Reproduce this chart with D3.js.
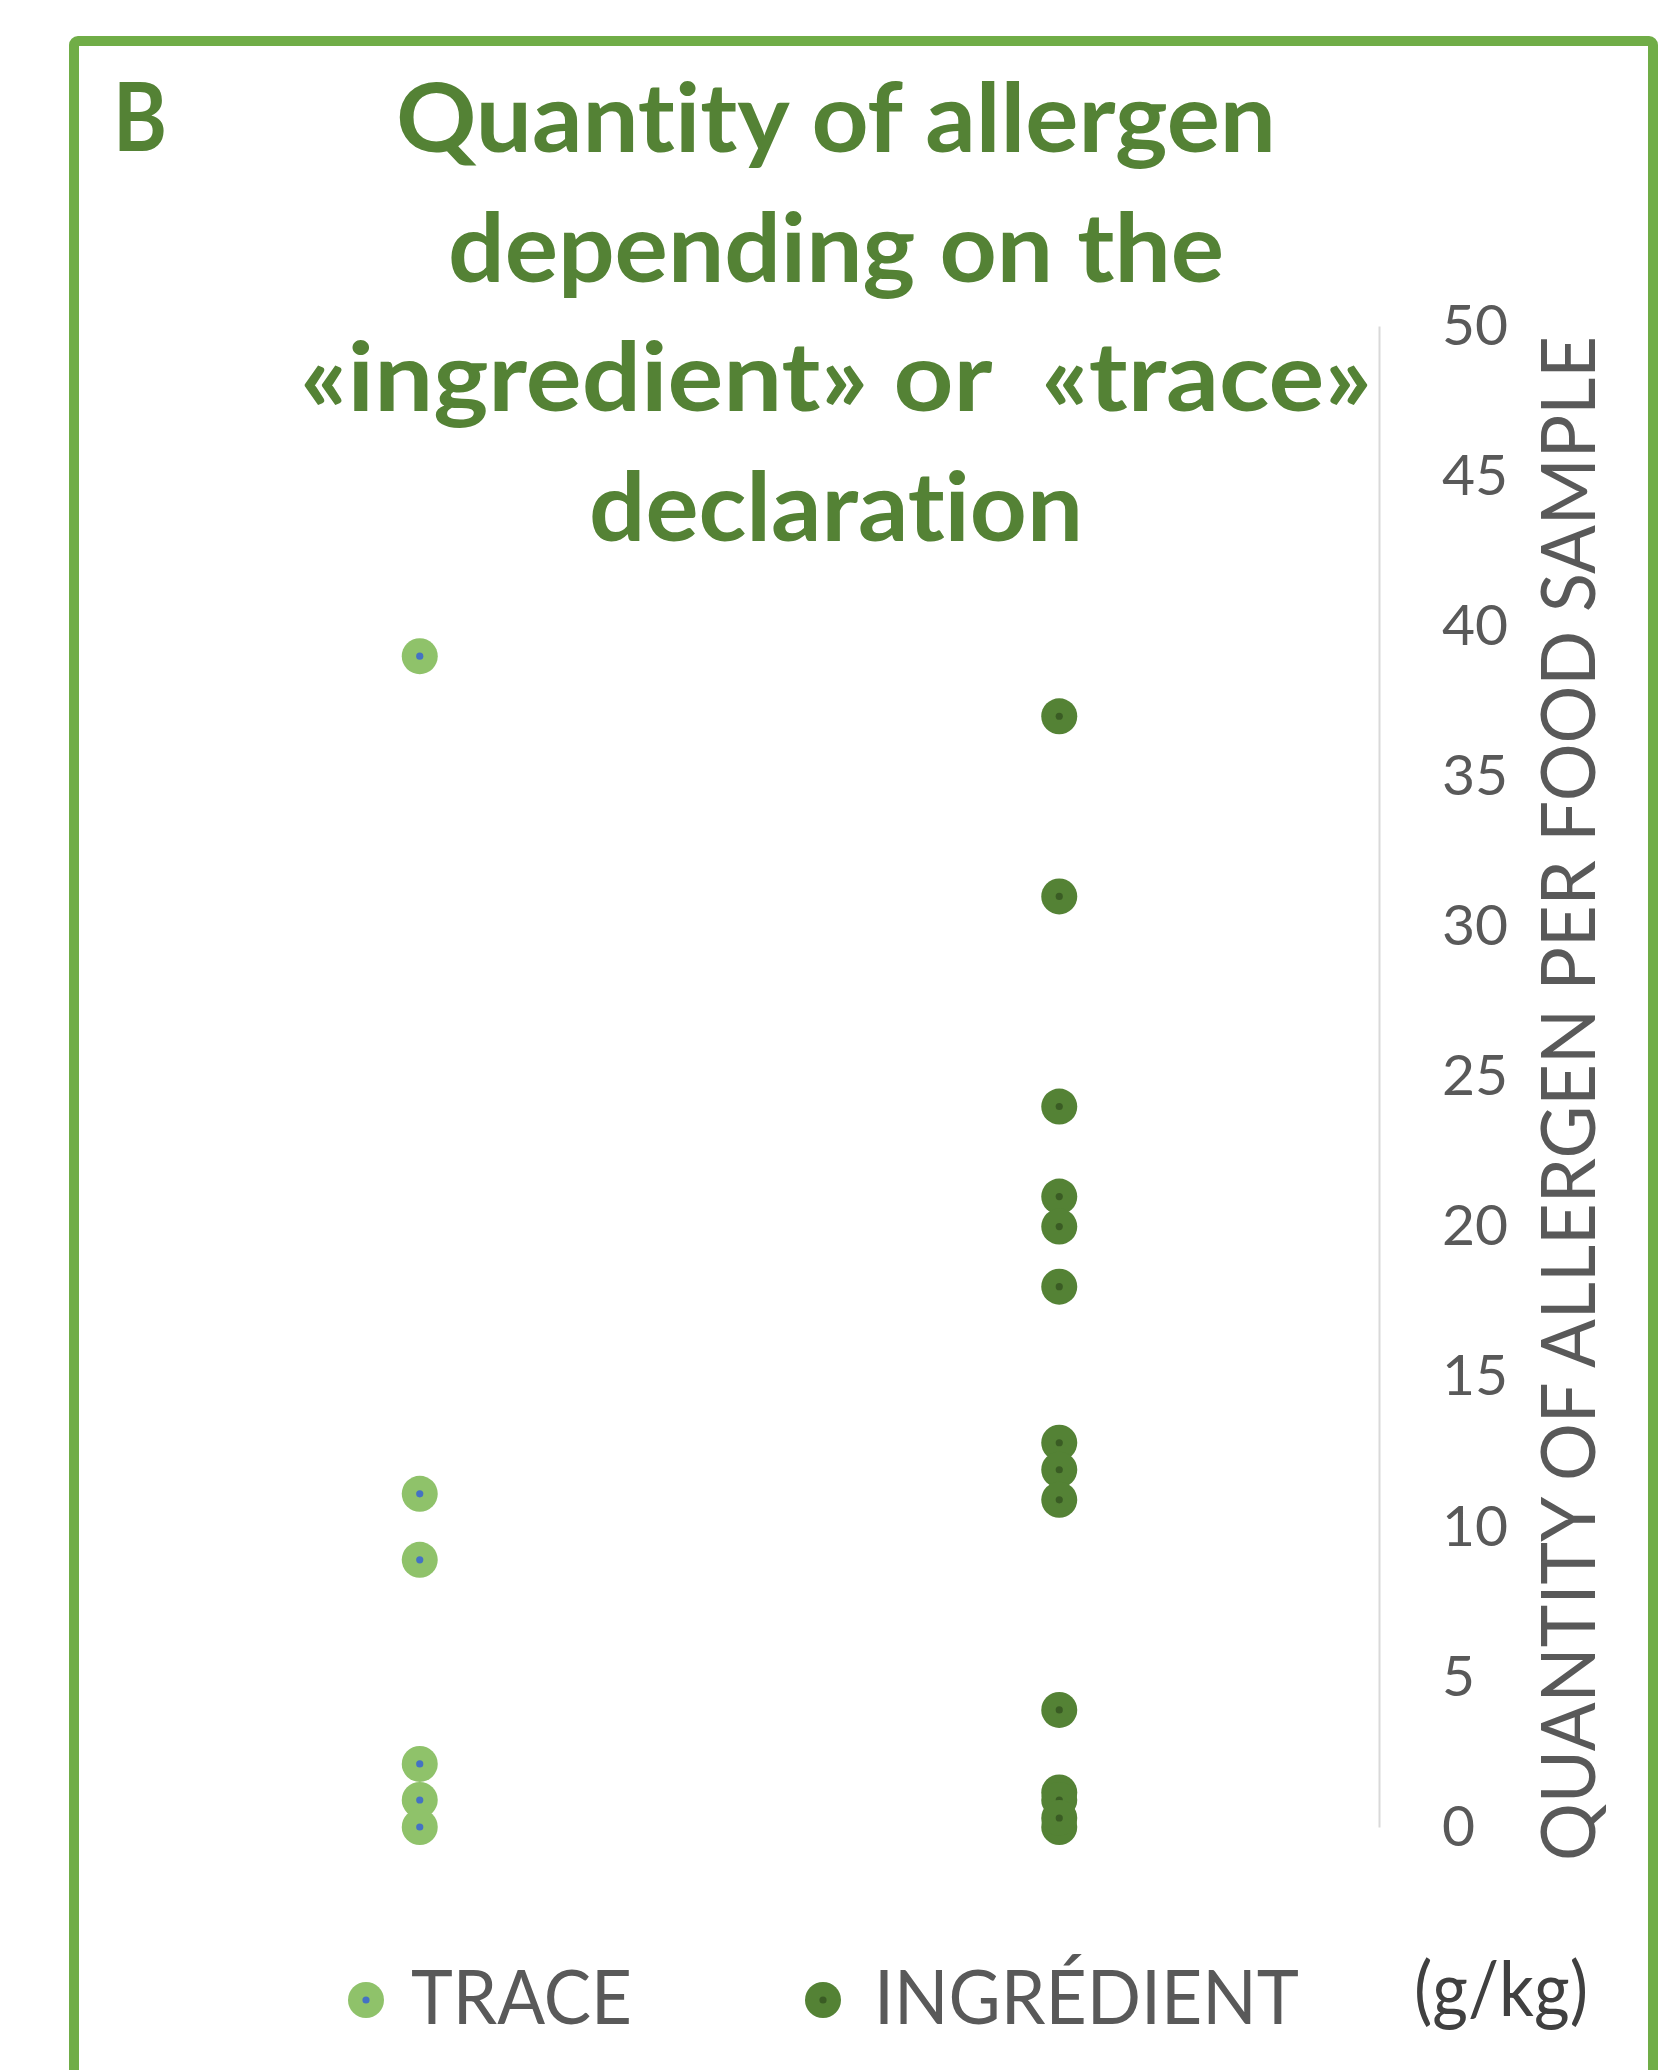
<!DOCTYPE html>
<html>
<head>
<meta charset="utf-8">
<script src="https://cdn.jsdelivr.net/npm/d3@7/dist/d3.min.js"></script>
<style>
  html, body { margin: 0; padding: 0; background: #ffffff; }
  svg { display: block; }
  svg text { font-variant-ligatures: none; font-feature-settings: "liga" 0, "clig" 0; }
</style>
</head>
<body>
<script>
// Declared categories and measured allergen quantities (g/kg)
const categories = ["TRACE", "INGRÉDIENT"];
const traceValues = [39, 11.1, 8.9, 2.1, 0.9, 0];
const ingredientValues = [37, 31, 24, 21, 20, 18, 12.8, 11.9, 10.9, 3.9, 1.15, 0, 0.9, 0.3];
const yTicks = [0, 5, 10, 15, 20, 25, 30, 35, 40, 45, 50];
const titleLines = ["Quantity of allergen", "depending on the", "«ingredient» or  «trace»", "declaration"];
const panelLetter = "B";
const axisTitle = "QUANTITY OF ALLERGEN PER FOOD SAMPLE";
const unitLabel = "(g/kg)";

const W = 1677, H = 2070;
const plot = { left: 100, right: 1379, top: 326, bottom: 1827 };

const colors = {
  frame: "#70AD47",
  title: "#548235",
  trace: "#8FC26A",
  traceDot: "#4472C4",
  ingredient: "#548235",
  ingredientDot: "#3A5C24",
  text: "#595959",
  unit: "#404040",
  axis: "#D9D9D9"
};

const svg = d3.select("body").append("svg")
  .attr("width", W).attr("height", H);

svg.append("rect").attr("width", W).attr("height", H).attr("fill", "#fff");

// Outer frame (open at the bottom edge of the page)
svg.append("rect")
  .attr("x", 74).attr("y", 41)
  .attr("width", 1579).attr("height", H + 40)
  .attr("rx", 4)
  .attr("fill", "none")
  .attr("stroke", colors.frame)
  .attr("stroke-width", 10);

const x = d3.scalePoint().domain(categories).range([plot.left, plot.right]).padding(0.5);
const y = d3.scaleLinear().domain([0, 50]).range([plot.bottom, plot.top]);

// Title
const fontBold = "Lato, 'Open Sans', sans-serif";
const titleWidths = [880, 776, 1072, 494];
const titleBaselines = [152, 282, 411, 541];
svg.append("g").selectAll("text")
  .data(titleLines)
  .join("text")
  .attr("x", 836)
  .attr("y", (d, i) => titleBaselines[i])
  .attr("text-anchor", "middle")
  .attr("textLength", (d, i) => titleWidths[i])
  .attr("lengthAdjust", "spacingAndGlyphs")
  .style("white-space", "pre")
  .attr("font-family", fontBold)
  .attr("font-weight", 700)
  .attr("font-size", 96)
  .attr("fill", colors.title)
  .text(d => d);

svg.append("text")
  .attr("x", 113).attr("y", 151)
  .attr("textLength", 54)
  .attr("lengthAdjust", "spacingAndGlyphs")
  .attr("font-family", fontBold)
  .attr("font-weight", 700)
  .attr("font-size", 96)
  .attr("fill", colors.title)
  .text(panelLetter);

// Value axis on the right
const yAxis = d3.axisRight(y).tickValues(yTicks).tickSize(0).tickSizeOuter(0).tickPadding(63);
const gAxis = svg.append("g")
  .attr("transform", `translate(${plot.right},0)`)
  .call(yAxis);
gAxis.select(".domain").attr("stroke", colors.axis).attr("stroke-width", 2);
gAxis.selectAll(".tick text")
  .attr("font-family", "Lato, 'Open Sans', sans-serif")
  .attr("font-size", 57)
  .attr("fill", colors.text);

svg.append("text")
  .attr("transform", `translate(1595,${(336 + 1861) / 2}) rotate(-90)`)
  .attr("text-anchor", "middle")
  .attr("textLength", 1525)
  .attr("lengthAdjust", "spacingAndGlyphs")
  .attr("font-family", "Lato, 'Open Sans', sans-serif")
  .attr("font-size", 75)
  .attr("fill", colors.text)
  .text(axisTitle);

// Points
const R = 18, r = 3.6;
function drawSeries(values, cat, fill, dot) {
  const g = svg.append("g");
  values.forEach(v => {
    g.append("circle").attr("cx", x(cat)).attr("cy", y(v)).attr("r", R).attr("fill", fill);
    g.append("circle").attr("cx", x(cat)).attr("cy", y(v)).attr("r", r).attr("fill", dot);
  });
}
drawSeries(traceValues, categories[0], colors.trace, colors.traceDot);
drawSeries(ingredientValues, categories[1], colors.ingredient, colors.ingredientDot);

// Legend
const legendY = 2000;
const legend = [
  { label: categories[0], fill: colors.trace, dot: colors.traceDot, mx: 366, tx: 411, w: 221 },
  { label: categories[1], fill: colors.ingredient, dot: colors.ingredientDot, mx: 823, tx: 874, w: 425 }
];
const lg = svg.append("g").selectAll("g").data(legend).join("g");
lg.append("circle").attr("cx", d => d.mx).attr("cy", legendY).attr("r", R).attr("fill", d => d.fill);
lg.append("circle").attr("cx", d => d.mx).attr("cy", legendY).attr("r", r).attr("fill", d => d.dot);
lg.append("text")
  .attr("x", d => d.tx).attr("y", 2024)
  .attr("textLength", d => d.w)
  .attr("lengthAdjust", "spacingAndGlyphs")
  .attr("font-family", "Lato, 'Open Sans', sans-serif")
  .attr("font-size", 75)
  .attr("fill", colors.text)
  .text(d => d.label);

svg.append("text")
  .attr("x", 1414).attr("y", 2016)
  .attr("textLength", 174)
  .attr("lengthAdjust", "spacingAndGlyphs")
  .attr("font-family", "Lato, 'Open Sans', sans-serif")
  .attr("font-size", 75)
  .attr("fill", colors.unit)
  .text(unitLabel);
</script>
</body>
</html>
